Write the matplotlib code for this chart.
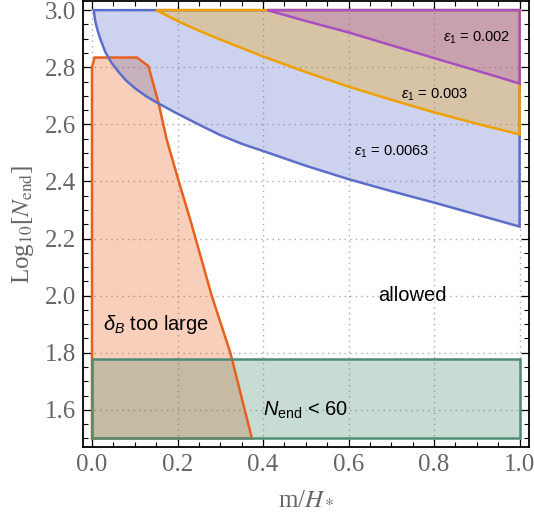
import matplotlib
matplotlib.use("Agg")
import matplotlib.pyplot as plt
from matplotlib.ticker import MultipleLocator

plt.rcParams['mathtext.fontset'] = 'custom'
plt.rcParams['mathtext.rm'] = 'Liberation Sans'
plt.rcParams['mathtext.it'] = 'Liberation Sans:italic'
plt.rcParams['mathtext.bf'] = 'Liberation Sans:bold'

# region boundaries
blue_x = [0.004, 0.008, 0.013, 0.019, 0.031, 0.045, 0.062, 0.08, 0.101, 0.125, 0.152, 0.199,
          0.253, 0.300, 0.35, 0.417, 0.5, 0.6, 0.7, 0.8, 0.9, 1.0]
blue_y = [3.0, 2.959, 2.930, 2.901, 2.854, 2.817, 2.784, 2.753, 2.726, 2.700, 2.676, 2.638,
          2.597, 2.5625, 2.532, 2.498, 2.455, 2.408, 2.366, 2.326, 2.284, 2.242]

orange_x = [0.15, 0.2, 0.25, 0.3, 0.4, 0.5, 0.6, 0.7, 0.8, 0.9, 1.0]
orange_y = [3.0, 2.962, 2.928, 2.897, 2.838, 2.783, 2.732, 2.686, 2.642, 2.602, 2.565]

purple_x = [0.41, 0.5, 0.6, 0.7, 0.8, 0.9, 1.0]
purple_y = [3.0, 2.962, 2.922, 2.877, 2.832, 2.788, 2.743]

delta_x = [0.0, 0.0, 0.006, 0.105, 0.132, 0.156, 0.175, 0.202, 0.230, 0.280, 0.324, 0.374]
delta_y = [1.5, 2.80, 2.834, 2.834, 2.804, 2.673, 2.545, 2.405, 2.265, 2.0, 1.798, 1.5]

nend_x = [0.0, 1.0, 1.0, 0.0]
nend_y = [1.5, 1.5, 1.779, 1.779]

x_top = 3.0
x_right = 1.0

fig = plt.figure(figsize=(5.34, 5.17), dpi=100)
ax = fig.add_axes([83 / 534, 70 / 517, 446 / 534, 446 / 517])


def region(xs, ys, col, z):
    ax.fill(xs, ys, facecolor=col, alpha=0.3, edgecolor='none', zorder=z)
    ax.fill(xs, ys, facecolor='none', edgecolor=col, lw=1.8, zorder=z + 5)


region(delta_x, delta_y, '#e8601c', 2)
region(nend_x, nend_y, '#4f8c72', 2.1)
region(blue_x + [x_right], blue_y + [x_top], '#5b6ec9', 2.2)
region(orange_x + [x_right], orange_y + [x_top], '#f0a000', 2.3)
region(purple_x + [x_right], purple_y + [x_top], '#a94fbf', 2.4)

ax.set_xlim(-0.021, 1.022)
ax.set_ylim(1.47, 3.032)
ax.xaxis.set_major_locator(MultipleLocator(0.2))
ax.xaxis.set_minor_locator(MultipleLocator(0.05))
ax.yaxis.set_major_locator(MultipleLocator(0.2))
ax.yaxis.set_minor_locator(MultipleLocator(0.05))
ax.tick_params(which='both', direction='in', top=True, right=True, color='black')
ax.tick_params(which='major', length=6, width=0.9)
ax.tick_params(which='minor', length=3.5, width=0.8)
ax.tick_params(labelsize=18, labelcolor='#666666', pad=5)
ax.set_xticklabels(['%.1f' % v for v in ax.get_xticks()], family='Liberation Serif')
ax.set_yticklabels(['%.1f' % v for v in ax.get_yticks()], family='Liberation Serif')
for s in ax.spines.values():
    s.set_linewidth(1.3)

ax.grid(True, which='major', color='#aaaaaa', lw=1.0, linestyle=(0, (1, 3)), zorder=0)
ax.set_axisbelow(True)

ax.set_xlabel(r'm/$H_*$', fontsize=18, color='#666666', family='Liberation Serif',
              math_fontfamily='stix', labelpad=8)
ax.set_ylabel(r'Log$_{10}$[$N_{\mathrm{end}}$]', fontsize=18, color='#666666',
              family='Liberation Serif', math_fontfamily='stix', labelpad=6)

ax.text(0.90, 2.903, r'$\epsilon_1$ = 0.002', fontsize=10.5, family='Liberation Sans',
        ha='center', va='center', zorder=10)
ax.text(0.80, 2.702, r'$\epsilon_1$ = 0.003', fontsize=10.5, family='Liberation Sans',
        ha='center', va='center', zorder=10)
ax.text(0.70, 2.504, r'$\epsilon_1$ = 0.0063', fontsize=10.5, family='Liberation Sans',
        ha='center', va='center', zorder=10)
ax.text(0.75, 2.0, 'allowed', fontsize=14.5, family='Liberation Sans',
        ha='center', va='center', zorder=10)
ax.text(0.15, 1.90, r'$\delta_B$ too large', fontsize=14.5, family='Liberation Sans',
        ha='center', va='center', zorder=10)
ax.text(0.50, 1.60, r'$N_{\mathrm{end}}$ < 60', fontsize=14.5, family='Liberation Sans',
        ha='center', va='center', zorder=10)

fig.savefig('out.png', dpi=100)
